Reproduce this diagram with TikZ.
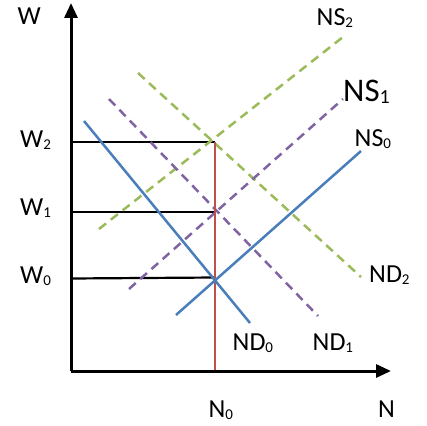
\documentclass[tikz,border=0pt]{standalone}
\usepackage{fontspec}
\setmainfont{Carlito}
\usetikzlibrary{arrows.meta}
\definecolor{lineblue}{RGB}{74,126,187}
\definecolor{linepurple}{RGB}{128,100,162}
\definecolor{linegreen}{RGB}{155,187,89}
\definecolor{linered}{RGB}{192,80,77}
\newcommand{\sub}[2][15]{\raisebox{-2pt}{\fontsize{#1}{#1}\selectfont #2}}
\begin{document}
\begin{tikzpicture}[
    x=1pt, y=-1pt,
    axis/.style={line width=3pt, -{Triangle[length=15pt,width=13pt]}},
    level/.style={line width=2.2pt, black},
    curvezero/.style={line width=2.5pt, lineblue},
    curveone/.style={line width=2.5pt, linepurple, dash pattern=on 9pt off 6pt},
    curvetwo/.style={line width=2.5pt, linegreen, dash pattern=on 9pt off 6pt},
    lab/.style={font=\fontsize{26}{28}\selectfont, inner sep=0pt, anchor=base west},
    biglab/.style={font=\fontsize{33}{35}\selectfont, inner sep=0pt, anchor=base west}
]
    \useasboundingbox (0,0) rectangle (427,425);

    \coordinate (origin) at (71,371);
    \coordinate (ytop) at (71,3);
    \coordinate (xend) at (391,371);

    \coordinate (wtwo) at (71,142);
    \coordinate (wone) at (71,212);
    \coordinate (wzero) at (71,278.5);
    \coordinate (etwo) at (215,142);
    \coordinate (eone) at (215,212);
    \coordinate (ezero) at (215,277.5);
    \coordinate (nfoot) at (215,371);

    \coordinate (ndzeroa) at (84,121);
    \coordinate (ndzerob) at (250,323);
    \coordinate (nszeroa) at (176,315);
    \coordinate (nszerob) at (361,151);
    \coordinate (ndonea) at (109,99);
    \coordinate (ndoneb) at (318,316);
    \coordinate (nsonea) at (129,289);
    \coordinate (nsoneb) at (343,99);
    \coordinate (ndtwoa) at (138,73);
    \coordinate (ndtwob) at (361,277);
    \coordinate (nstwoa) at (99,229);
    \coordinate (nstwob) at (343,37);

    \draw[level] (wtwo) -- (etwo);
    \draw[level] (wone) -- (eone);
    \draw[level] (wzero) -- (ezero);

    \draw[curvetwo] (nstwoa) -- (nstwob);
    \draw[curvetwo] (ndtwoa) -- (ndtwob);
    \draw[curveone] (nsonea) -- (nsoneb);
    \draw[curveone] (ndonea) -- (ndoneb);
    \draw[line width=2.5pt, linered] (etwo) -- (nfoot);
    \draw[curvezero] (ndzeroa) -- (ndzerob);
    \draw[curvezero] (nszeroa) -- (nszerob);

    \draw[axis] (origin) -- (ytop);
    \draw[axis] (origin) -- (xend);

    \node[lab] (wlab) at (17.5,25) {W};
    \node[lab] (wtwolab) at (20,147) {W\sub{2}};
    \node[lab] (wonelab) at (20,215) {W\sub{1}};
    \node[lab] (wzerolab) at (20,283) {W\sub{0}};
    \node[lab] (nstwolab) at (316.5,26) {NS\sub{2}};
    \node[biglab] (nsonelab) at (343,101.5) {NS\sub[20]{1}};
    \node[lab] (nszerolab) at (354.5,146.5) {NS\sub{0}};
    \node[lab] (ndtwolab) at (369,282.5) {ND\sub{2}};
    \node[lab] (ndzerolab) at (232.5,350) {ND\sub{0}};
    \node[lab] (ndonelab) at (312.5,350) {ND\sub{1}};
    \node[lab] (nzerolab) at (208.5,417) {N\sub{0}};
    \node[lab] (nlab) at (378,417) {N};
\end{tikzpicture}
\end{document}
